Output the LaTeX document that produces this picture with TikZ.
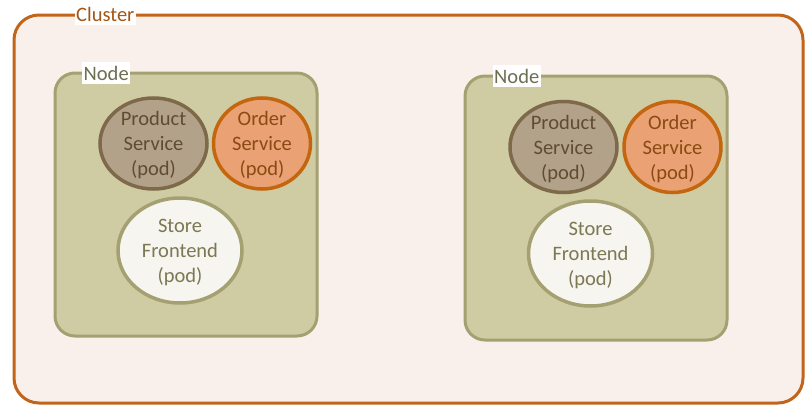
\documentclass[tikz,border=0pt]{standalone}
\usepackage{fontspec}
\setmainfont{Carlito}
\usetikzlibrary{shapes.geometric}
\definecolor{clstroke}{HTML}{C2651A}
\definecolor{clfill}{HTML}{FAF0EB}
\definecolor{cltext}{HTML}{A35616}
\definecolor{ndfill}{HTML}{CFCBA3}
\definecolor{ndstroke}{HTML}{A5A071}
\definecolor{ndtext}{HTML}{6E6E52}
\definecolor{prfill}{HTML}{B3A28A}
\definecolor{prstroke}{HTML}{7E6A4B}
\definecolor{prtext}{HTML}{5E4D33}
\definecolor{orfill}{HTML}{EAA274}
\definecolor{orstroke}{HTML}{C4650F}
\definecolor{ortext}{HTML}{8A4A14}
\definecolor{stfill}{HTML}{F6F5F0}
\definecolor{sttext}{HTML}{7C7852}
\begin{document}
\begin{tikzpicture}[x=1pt,y=-1pt,
  every node/.style={font=\fontsize{20.5}{25}\selectfont},
  clusterbox/.style={draw=clstroke,fill=clfill,line width=3pt,rounded corners=25pt},
  nodebox/.style={draw=ndstroke,fill=ndfill,line width=3pt,rounded corners=20pt},
  boxlabel/.style={fill=white,inner xsep=1.5pt,inner ysep=3.5pt,anchor=base west},
  pod/.style={ellipse,line width=3.5pt,inner sep=0pt},
  podtext/.style={align=center,inner sep=0pt,yshift=-2pt},
  prodpod/.style={pod,draw=prstroke,fill=prfill,minimum width=107pt,minimum height=91pt},
  orderpod/.style={pod,draw=orstroke,fill=orfill,minimum width=97pt,minimum height=91pt},
  storepod/.style={pod,draw=ndstroke,fill=stfill,minimum width=124pt,minimum height=105pt}]
\useasboundingbox (0,0) rectangle (811,415);
\draw[clusterbox] (14,15) rectangle (803,403);
\node[boxlabel,text=cltext] (cl) at (74.5,21) {Cluster};
% Node 1
\draw[nodebox] (55,73) rectangle (317,336);
\node[boxlabel,text=ndtext] (n1) at (82,80) {Node};
\node[prodpod] (p1) at (153.5,143.5) {};
\node[podtext,text=prtext] (p1t) at (p1.center) {Product\\Service\\(pod)};
\node[orderpod] (o1) at (262,143.5) {};
\node[podtext,text=ortext] (o1t) at (o1.center) {Order\\Service\\(pod)};
\node[storepod] (s1) at (180,250.5) {};
\node[podtext,text=sttext] (s1t) at (s1.center) {Store\\Frontend\\(pod)};
% Node 2
\draw[nodebox] (465,76) rectangle (727,340);
\node[boxlabel,text=ndtext] (n2) at (492.5,83) {Node};
\node[prodpod] (p2) at (563.5,147) {};
\node[podtext,text=prtext] (p2t) at (p2.center) {Product\\Service\\(pod)};
\node[orderpod] (o2) at (672.5,147) {};
\node[podtext,text=ortext] (o2t) at (o2.center) {Order\\Service\\(pod)};
\node[storepod] (s2) at (590.5,253.5) {};
\node[podtext,text=sttext] (s2t) at (s2.center) {Store\\Frontend\\(pod)};
\end{tikzpicture}
\end{document}
